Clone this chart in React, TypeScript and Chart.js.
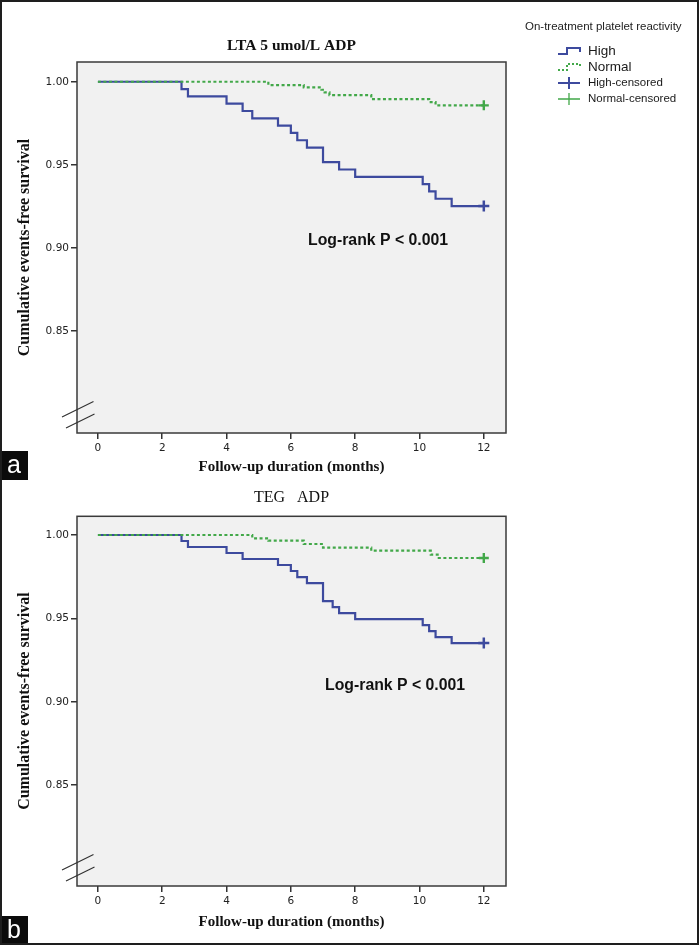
import React, { useEffect, useRef } from "react";
import { Chart, registerables } from "chart.js";

Chart.register(...registerables);

// ---------- data ----------
const MONTH_TICKS = [0, 2, 4, 6, 8, 10, 12];
const SURVIVAL_TICKS = [0.85, 0.9, 0.95, 1.0];

// Panel a: LTA 5 umol/L ADP
const LTA_HIGH_MONTHS = [0, 2.6, 2.8, 4.0, 4.5, 4.8, 5.6, 6.0, 6.2, 6.5, 7.0, 7.5, 8.0, 10.1, 10.3, 10.5, 11.0, 12];
const LTA_HIGH_SURVIVAL = [1, 0.9956, 0.9912, 0.9868, 0.9824, 0.978, 0.9736, 0.9692, 0.9648, 0.9604, 0.9516, 0.9472, 0.9428, 0.9384, 0.934, 0.9296, 0.9252, 0.9252];
const LTA_NORMAL_MONTHS = [0, 5.3, 6.4, 6.95, 7.05, 7.2, 8.5, 10.3, 10.5, 12];
const LTA_NORMAL_SURVIVAL = [1, 0.998, 0.9966, 0.9952, 0.9936, 0.992, 0.9895, 0.9878, 0.9858, 0.9858];

// Panel b: TEG ADP
const TEG_HIGH_MONTHS = [0, 2.6, 2.8, 4.0, 4.5, 5.6, 6.0, 6.2, 6.5, 7.0, 7.3, 7.5, 8.0, 10.1, 10.3, 10.5, 11.0, 12];
const TEG_HIGH_SURVIVAL = [1, 0.9964, 0.9928, 0.9892, 0.9856, 0.982, 0.9784, 0.9748, 0.9712, 0.9604, 0.9568, 0.9532, 0.9496, 0.946, 0.9424, 0.9388, 0.9352, 0.9352];
const TEG_NORMAL_MONTHS = [0, 4.8, 5.3, 6.4, 7.0, 8.5, 10.35, 10.6, 12];
const TEG_NORMAL_SURVIVAL = [1, 0.998, 0.9966, 0.9946, 0.9924, 0.9906, 0.9882, 0.9862, 0.9862];

const CENSOR_MONTH = 12;

const PANEL_TITLES = ["LTA 5 umol/L ADP", "TEG   ADP"];
const PANEL_LETTERS = ["a", "b"];
const X_TITLE = "Follow-up duration (months)";
const Y_TITLE = "Cumulative events-free survival";
const LOGRANK_TEXT = "Log-rank P < 0.001";
const LOGRANK_POS_A = [8.71, 0.9042];
const LOGRANK_POS_B = [9.24, 0.9095];
const LEGEND_TITLE = "On-treatment platelet reactivity";
const LEGEND_LABELS = ["High", "Normal", "High-censored", "Normal-censored"];

// ---------- styles ----------
const BLUE = "#3d4a9e";
const GREEN = "#42a849";
const SERIF = '"Liberation Serif", "Times New Roman", serif';
const SANS = '"Liberation Sans", Arial, sans-serif';
const TICK_FONT = '"DejaVu Sans", sans-serif';

function pts(xs: number[], ys: number[]) {
  return xs.map((x, i) => ({ x, y: ys[i] }));
}

function drawLegend(ctx: CanvasRenderingContext2D) {
  ctx.save();
  ctx.fillStyle = "#222";
  ctx.textAlign = "left";
  ctx.textBaseline = "middle";
  ctx.font = `11.5px ${SANS}`;
  ctx.fillText(LEGEND_TITLE, 525, 27);
  const ys = [51, 67, 83, 99];
  const x0 = 558;
  const x1 = 580;
  const tx = 588;
  // High: step glyph
  ctx.strokeStyle = BLUE;
  ctx.lineWidth = 2;
  ctx.setLineDash([]);
  ctx.beginPath();
  ctx.moveTo(x0, ys[0] + 3);
  ctx.lineTo(x0 + 9, ys[0] + 3);
  ctx.lineTo(x0 + 9, ys[0] - 3);
  ctx.lineTo(x1, ys[0] - 3);
  ctx.lineTo(x1, ys[0] + 1);
  ctx.stroke();
  // Normal: dotted step glyph
  ctx.strokeStyle = GREEN;
  ctx.setLineDash([2, 2]);
  ctx.beginPath();
  ctx.moveTo(x0, ys[1] + 3);
  ctx.lineTo(x0 + 9, ys[1] + 3);
  ctx.lineTo(x0 + 9, ys[1] - 3);
  ctx.lineTo(x1, ys[1] - 3);
  ctx.lineTo(x1, ys[1] + 1);
  ctx.stroke();
  ctx.setLineDash([]);
  // censored crosses
  ctx.strokeStyle = BLUE;
  ctx.lineWidth = 2;
  ctx.beginPath();
  ctx.moveTo(x0, ys[2]);
  ctx.lineTo(x1, ys[2]);
  ctx.moveTo((x0 + x1) / 2, ys[2] - 6);
  ctx.lineTo((x0 + x1) / 2, ys[2] + 6);
  ctx.stroke();
  ctx.strokeStyle = GREEN;
  ctx.lineWidth = 1.3;
  ctx.beginPath();
  ctx.moveTo(x0, ys[3]);
  ctx.lineTo(x1, ys[3]);
  ctx.moveTo((x0 + x1) / 2, ys[3] - 6);
  ctx.lineTo((x0 + x1) / 2, ys[3] + 6);
  ctx.stroke();
  ctx.fillStyle = "#1a1a1a";
  ctx.font = `13.5px ${SANS}`;
  ctx.fillText(LEGEND_LABELS[0], tx, ys[0]);
  ctx.fillText(LEGEND_LABELS[1], tx, ys[1]);
  ctx.font = `11.5px ${SANS}`;
  ctx.fillText(LEGEND_LABELS[2], tx, ys[2]);
  ctx.fillText(LEGEND_LABELS[3], tx, ys[3]);
  ctx.restore();
}

const kmExtras = {
  id: "kmExtras",
  beforeDraw(chart: any) {
    const { ctx, chartArea: a } = chart;
    ctx.save();
    ctx.fillStyle = "#f1f1f1";
    ctx.fillRect(a.left, a.top, a.right - a.left, a.bottom - a.top);
    ctx.restore();
  },
  afterDraw(chart: any, _args: any, opts: any) {
    const { ctx, chartArea: a, scales } = chart;
    ctx.save();
    // frame
    ctx.strokeStyle = "#3a3a3a";
    ctx.lineWidth = 1.5;
    ctx.strokeRect(a.left, a.top, a.right - a.left, a.bottom - a.top);
    // axis break marks
    ctx.strokeStyle = "#333";
    ctx.lineWidth = 1.2;
    ctx.beginPath();
    ctx.moveTo(a.left - 15, a.bottom - 16);
    ctx.lineTo(a.left + 16.5, a.bottom - 31.5);
    ctx.moveTo(a.left - 11, a.bottom - 5);
    ctx.lineTo(a.left + 17.5, a.bottom - 19);
    ctx.stroke();
    // log-rank annotation
    if (opts && opts.logrank) {
      const [mx, my] = opts.logrank;
      ctx.fillStyle = "#111";
      ctx.font = `bold 15.8px ${SANS}`;
      ctx.textAlign = "center";
      ctx.textBaseline = "middle";
      ctx.fillText(LOGRANK_TEXT, scales.x.getPixelForValue(mx), scales.y.getPixelForValue(my));
    }
    ctx.restore();
    if (opts && opts.legend) drawLegend(ctx);
  },
};

type PanelProps = {
  top: number;
  height: number;
  title: string;
  titlePad: { top: number; bottom: number };
  titleSize: number;
  highMonths: number[];
  highSurv: number[];
  normalMonths: number[];
  normalSurv: number[];
  yMin: number;
  yMax: number;
  xAxisHeight: number;
  xTitlePadBottom: number;
  logrank: number[];
  legend: boolean;
  titleWeight: string;
};

function KMPanel(p: PanelProps) {
  const ref = useRef<HTMLCanvasElement>(null);
  useEffect(() => {
    const lastHigh = p.highSurv[p.highSurv.length - 1];
    const lastNormal = p.normalSurv[p.normalSurv.length - 1];
    const chart = new Chart(ref.current as HTMLCanvasElement, {
      type: "line",
      data: {
        datasets: [
          {
            label: "Normal-censored",
            data: [{ x: CENSOR_MONTH, y: lastNormal }],
            showLine: false,
            pointStyle: "cross",
            pointRadius: 5,
            borderColor: GREEN,
            pointBorderWidth: 2.4,
            order: 0,
          },
          {
            label: "High-censored",
            data: [{ x: CENSOR_MONTH, y: lastHigh }],
            showLine: false,
            pointStyle: "cross",
            pointRadius: 5.5,
            borderColor: BLUE,
            pointBorderWidth: 2.5,
            order: 1,
          },
          {
            label: "Normal",
            data: pts(p.normalMonths, p.normalSurv),
            borderColor: GREEN,
            borderWidth: 2.2,
            borderDash: [3, 2.5],
            stepped: true,
            pointRadius: 0,
            fill: false,
            order: 2,
          },
          {
            label: "High",
            data: pts(p.highMonths, p.highSurv),
            borderColor: BLUE,
            borderWidth: 2.2,
            stepped: true,
            pointRadius: 0,
            fill: false,
            order: 3,
          },
        ],
      } as any,
      options: {
        responsive: false,
        animation: false,
        devicePixelRatio: 1,
        layout: { padding: { left: 0, right: 193, top: 0, bottom: 0 } },
        plugins: {
          legend: { display: false },
          tooltip: { enabled: false },
          title: {
            display: true,
            text: p.title,
            fullSize: false,
            color: "#111",
            font: { family: SERIF, size: p.titleSize, weight: p.titleWeight as any },
            padding: p.titlePad,
          },
          kmExtras: { logrank: p.logrank, legend: p.legend },
        } as any,
        scales: {
          x: {
            type: "linear",
            min: -0.65,
            max: 12.69,
            afterBuildTicks: (s: any) => {
              s.ticks = MONTH_TICKS.map((v) => ({ value: v }));
            },
            afterFit: (s: any) => {
              s.height = p.xAxisHeight;
            },
            ticks: {
              color: "#222",
              font: { family: TICK_FONT, size: 10.5 },
              padding: 3,
              maxRotation: 0,
              callback: (v: any) => String(v),
            },
            grid: { drawOnChartArea: false, drawTicks: true, tickLength: 6, color: "#333", lineWidth: 1.5 },
            border: { display: false },
            title: {
              display: true,
              text: X_TITLE,
              color: "#111",
              font: { family: SERIF, size: 15, weight: "bold" },
              padding: { top: 0, bottom: p.xTitlePadBottom },
            },
          },
          y: {
            type: "linear",
            min: p.yMin,
            max: p.yMax,
            afterBuildTicks: (s: any) => {
              s.ticks = SURVIVAL_TICKS.map((v) => ({ value: v }));
            },
            afterFit: (s: any) => {
              s.width = 77;
            },
            ticks: {
              color: "#222",
              font: { family: TICK_FONT, size: 10.5 },
              padding: 2,
              callback: (v: any) => Number(v).toFixed(2),
            },
            grid: { drawOnChartArea: false, drawTicks: true, tickLength: 6, color: "#333", lineWidth: 1.5 },
            border: { display: false },
            title: {
              display: true,
              text: Y_TITLE,
              color: "#111",
              font: { family: SERIF, size: 16, weight: "bold" },
              padding: { top: 15, bottom: 0 },
            },
          },
        },
      },
      plugins: [kmExtras],
    });
    return () => chart.destroy();
  }, []);
  return (
    <canvas
      ref={ref}
      width={699}
      height={p.height}
      style={{ position: "absolute", left: 0, top: p.top, width: 699, height: p.height }}
    />
  );
}

function Letter({ text, top }: { text: string; top: number }) {
  return (
    <div
      style={{
        position: "absolute",
        left: 0,
        top,
        width: 28,
        height: 29,
        background: "#0b0b0b",
        color: "#fff",
        fontFamily: SANS,
        fontSize: 25,
        lineHeight: "26px",
        textAlign: "center",
      }}
    >
      {text}
    </div>
  );
}

export default function App() {
  return (
    <div
      style={{
        position: "absolute",
        left: 0,
        top: 0,
        width: 699,
        height: 945,
        background: "#fff",
        overflow: "hidden",
      }}
    >
      <KMPanel
        top={0}
        height={480}
        title={PANEL_TITLES[0]}
        titleSize={15.5}
        titlePad={{ top: 36.7, bottom: 6.7 }}
        highMonths={LTA_HIGH_MONTHS}
        highSurv={LTA_HIGH_SURVIVAL}
        normalMonths={LTA_NORMAL_MONTHS}
        normalSurv={LTA_NORMAL_SURVIVAL}
        yMin={0.7886}
        yMax={1.0119}
        xAxisHeight={47}
        xTitlePadBottom={4}
        logrank={LOGRANK_POS_A}
        legend={true}
        titleWeight="bold"
      />
      <KMPanel
        top={480}
        height={465}
        title={PANEL_TITLES[1]}
        titleSize={16}
        titlePad={{ top: 8.4, bottom: 8.7 }}
        highMonths={TEG_HIGH_MONTHS}
        highSurv={TEG_HIGH_SURVIVAL}
        normalMonths={TEG_NORMAL_MONTHS}
        normalSurv={TEG_NORMAL_SURVIVAL}
        yMin={0.7896}
        yMax={1.0112}
        xAxisHeight={59}
        xTitlePadBottom={14.3}
        logrank={LOGRANK_POS_B}
        legend={false}
        titleWeight="normal"
      />
      <Letter text={PANEL_LETTERS[0]} top={451} />
      <Letter text={PANEL_LETTERS[1]} top={916} />
      <div
        style={{
          position: "absolute",
          left: 0,
          top: 0,
          width: 699,
          height: 945,
          boxSizing: "border-box",
          border: "2px solid #1e1e1e",
          pointerEvents: "none",
        }}
      />
    </div>
  );
}
